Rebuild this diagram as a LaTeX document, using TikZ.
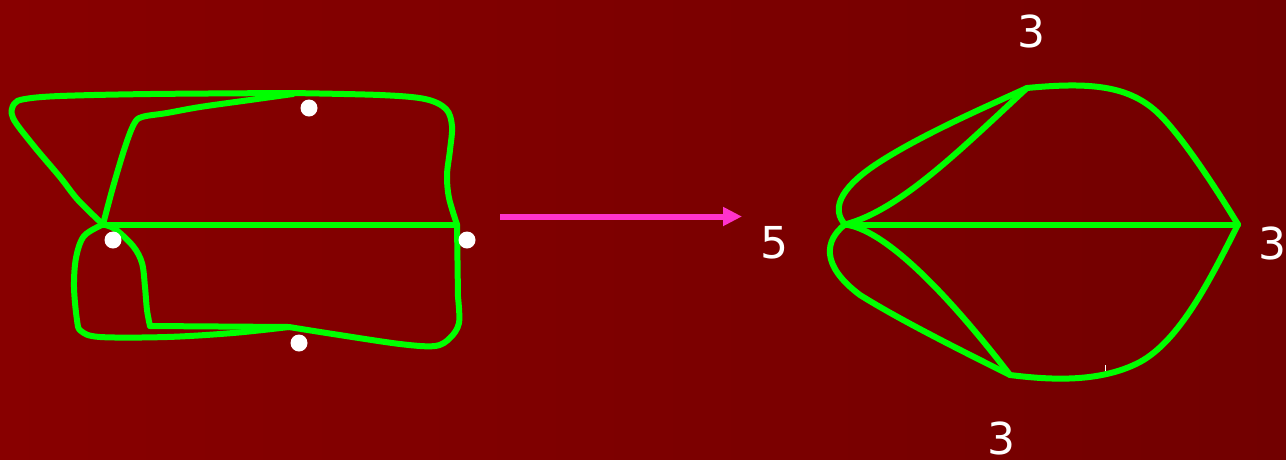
\documentclass[tikz,border=0pt]{standalone}
\usepackage{fontspec}
\setmainfont{DejaVu Sans}
\usetikzlibrary{arrows.meta}
\definecolor{bgL}{RGB}{136,0,0}
\definecolor{bgR}{RGB}{114,0,0}
\definecolor{grn}{RGB}{0,255,0}
\definecolor{mag}{RGB}{255,51,204}
\tikzset{
  edgeline/.style={draw=grn,line width=6pt,line cap=round,line join=round},
  hand/.style={edgeline,smooth,tension=0.55},
  dotmark/.style={circle,fill=white,inner sep=0pt,minimum size=17pt},
  numlabel/.style={text=white,font=\fontsize{44}{48}\selectfont,inner sep=0pt},
}
\begin{document}
\begin{tikzpicture}[x=1pt,y=-1pt]
\shade[left color=bgL,right color=bgR] (0,0) rectangle (1286,459);
\useasboundingbox (0,0) rectangle (1286,459);

% ---------- left figure ----------
\coordinate (A) at (103,224.5);
\coordinate (B) at (457,224.5);
\coordinate (TopM) at (291,93);
\coordinate (BotM) at (289,327);

\draw[edgeline] (A) -- (B);
\draw[hand] plot coordinates {(103,224.5) (78,200) (60,177) (33,145) (13,118) (14,104) (25,99) (60,96) (150,94) (291,93)};
\draw[hand] plot coordinates {(291,93) (380,95) (425,99) (446,109) (452,126) (450,150) (447,175) (449,198) (457,224.5)};
\draw[hand] plot coordinates {(103,224.5) (113,187) (125,147) (134,124) (142,117) (167,113) (200,107) (250,100) (293,94)};
\draw[hand] plot coordinates {(103,224.5) (84,236) (76,258) (74,287) (77,320) (81,331) (100,337) (167,337) (233,333) (289,327)};
\draw[hand] plot coordinates {(103,224.5) (115,229) (133,246) (142,263) (145,287) (147,310) (150,326)};
\draw[edgeline] (150,326) -- (BotM);
\draw[hand] plot coordinates {(289,327) (333,334) (400,344) (435,346) (450,338) (459,323) (458,297)};
\draw[edgeline] (458,297) -- (B);

\node[dotmark] (d1) at (309,108) {};
\node[dotmark] (d2) at (113,240) {};
\node[dotmark] (d3) at (467,240) {};
\node[dotmark] (d4) at (299,343) {};

% ---------- arrow ----------
\coordinate (arS) at (500,216.5);
\coordinate (arE) at (742,216.5);
\draw[draw=mag,line width=6pt,-{Triangle[length=19pt,width=18pt]}] (arS) -- (arE);

% ---------- right figure ----------
\coordinate (L) at (845,224.5);
\coordinate (R) at (1238,224.5);
\coordinate (T) at (1027,88);
\coordinate (Bt) at (1010,375);

\draw[edgeline] (L) -- (R);
\draw[edgeline] (L) .. controls (900,210) and (960,150) .. (T);
\draw[edgeline] (L) .. controls (832,210) and (838,190) .. (875,165) .. controls (920,135) and (990,105) .. (T);
\draw[edgeline] (T) .. controls (1090,82) and (1130,85) .. (1160,115) .. controls (1185,140) and (1220,195) .. (R);
\draw[edgeline] (R) .. controls (1210,280) and (1180,340) .. (1140,362) .. controls (1100,383) and (1050,380) .. (Bt);
\draw[edgeline] (L) .. controls (890,230) and (960,310) .. (Bt);
\draw[edgeline] (L) .. controls (825,240) and (820,265) .. (860,295) .. controls (900,320) and (960,350) .. (Bt);

\draw[white,line width=1pt] (1105,365) -- (1105,371);

\node[numlabel] (nT) at (1031,31) {3};
\node[numlabel] (nL) at (774,243) {5};
\node[numlabel] (nR) at (1272,243) {3};
\node[numlabel] (nB) at (1001,438) {3};
\end{tikzpicture}
\end{document}
